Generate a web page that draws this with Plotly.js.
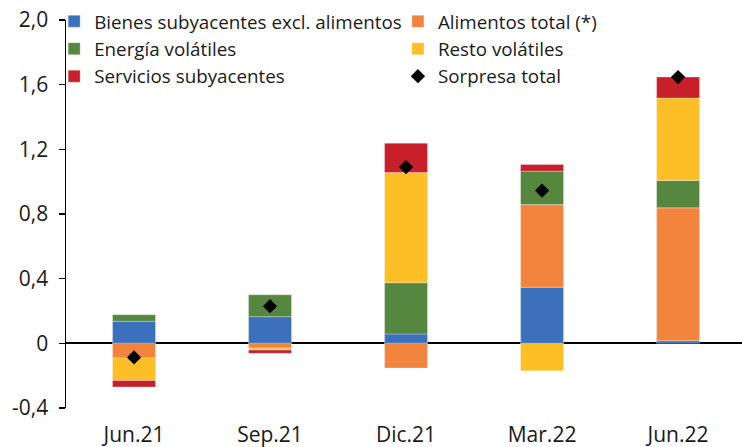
<!DOCTYPE html>
<html>
<head>
<meta charset="utf-8">
<script src="https://cdn.plot.ly/plotly-3.0.1.min.js"></script>
<style>html,body{margin:0;padding:0;background:#fff;}#chart{width:742px;height:447px;}</style>
</head>
<body>
<div id="chart"></div>
<script>
const categories = ["Jun.21", "Sep.21", "Dic.21", "Mar.22", "Jun.22"];
const bienes = [0.136, 0.165, 0.058, 0.347, 0.016];
const alimentos = [-0.09, -0.03, -0.153, 0.511, 0.822];
const energia = [0.041, 0.135, 0.317, 0.207, 0.169];
const resto = [-0.14, -0.012, 0.681, -0.17, 0.51];
const servicios = [-0.04, -0.02, 0.182, 0.041, 0.13];
const sorpresa = [-0.087, 0.23, 1.09, 0.945, 1.647];
const yTickVals = [-0.4, 0, 0.4, 0.8, 1.2, 1.6, 2.0];
const yTickText = ["-0,4", "0", "0,4", "0,8", "1,2", "1,6", "2,0"];

const FONT = "Open Sans, Noto Sans, sans-serif";
const TXT = "#1a1a1a";
function barTrace(name, y, color, legend) {
  return {type: "bar", name: name, x: categories, y: y, legend: legend,
    marker: {color: color, line: {color: "rgba(255,255,255,0.6)", width: 0.5}},
    hoverinfo: "skip"};
}
const traces = [
  barTrace("Bienes subyacentes excl. alimentos", bienes, "#3B71BC", "legend"),
  barTrace("Alimentos total (*)", alimentos, "#F2843D", "legend2"),
  barTrace("Energía volátiles", energia, "#55873F", "legend"),
  barTrace("Resto volátiles", resto, "#FDBE26", "legend2"),
  barTrace("Servicios subyacentes", servicios, "#C8202A", "legend"),
  {type: "scatter", mode: "markers", name: "Sorpresa total", x: categories, y: sorpresa,
   legend: "legend2",
   marker: {symbol: "diamond", color: "#000", size: 11}, hoverinfo: "skip"}
];
const legendBase = {orientation: "v", xanchor: "left", y: 1.045, yanchor: "top",
  bgcolor: "rgba(0,0,0,0)", font: {family: FONT, size: 18.8, color: TXT},
  tracegroupgap: 0, itemclick: false, traceorder: "normal"};
const layout = {
  width: 742, height: 447,
  margin: {l: 66, r: 0, t: 20, b: 39},
  paper_bgcolor: "#fff", plot_bgcolor: "#fff",
  font: {family: FONT, size: 18.8, color: TXT},
  barmode: "relative",
  bargap: 0.684,
  showlegend: true,
  legend: Object.assign({}, legendBase, {x: -0.0175}),
  legend2: Object.assign({}, legendBase, {x: 0.491}),
  xaxis: {type: "category", range: [-0.5, 4.47], showgrid: false, zeroline: false,
          showline: false, ticks: "", ticklabelstandoff: 12,
          tickfont: {family: FONT, size: 21, color: TXT}},
  yaxis: {range: [-0.4, 2.0], tickvals: yTickVals, ticktext: yTickText,
          showgrid: false, zeroline: true, zerolinecolor: "#000", zerolinewidth: 2,
          showline: true, linecolor: "#000", linewidth: 1.5,
          ticks: "outside", ticklen: 6, tickcolor: "#000", tickwidth: 1.5,
          ticklabelstandoff: 6,
          tickfont: {family: FONT, size: 21, color: TXT}}
};
Plotly.newPlot("chart", traces, layout, {staticPlot: true, displayModeBar: false});
</script>
</body>
</html>
